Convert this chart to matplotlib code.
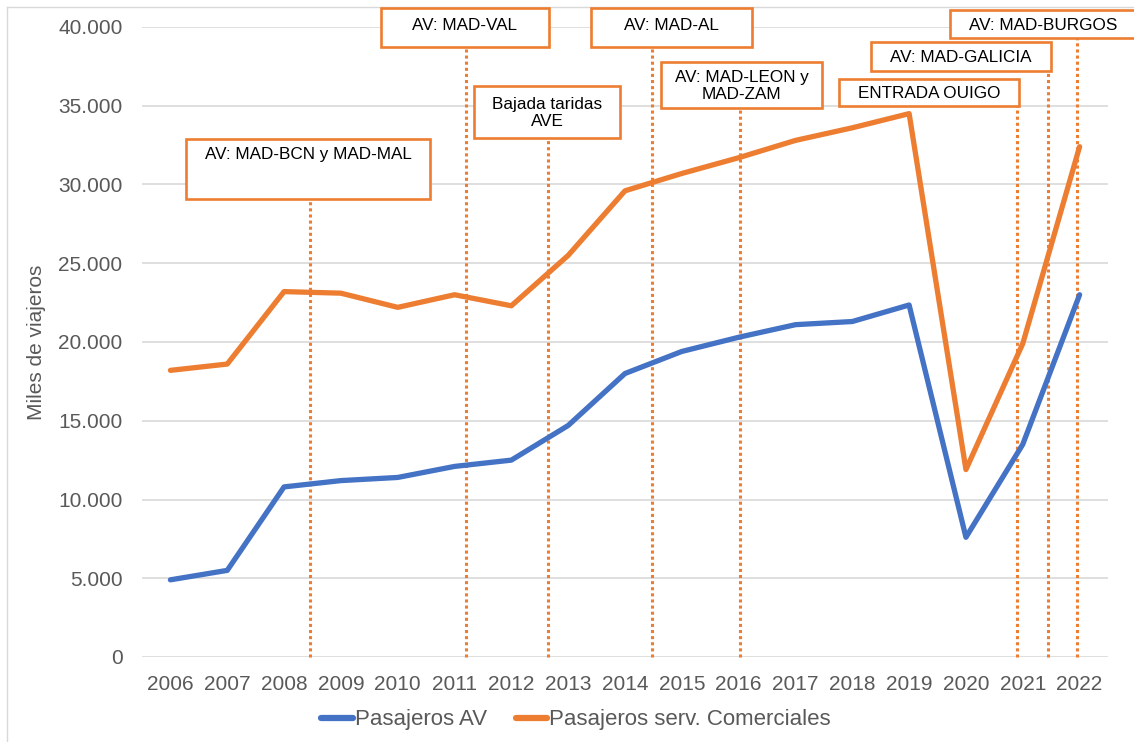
#!/usr/bin/env python3
import numpy as np
import matplotlib
matplotlib.use("Agg")
import matplotlib.pyplot as plt
from matplotlib.patches import Rectangle
from matplotlib.lines import Line2D
from matplotlib.ticker import FuncFormatter

plt.rcParams['font.family'] = ['Liberation Sans', 'DejaVu Sans']

years = list(range(2006, 2023))
pasajeros_av = [4900, 5500, 10800, 11200, 11400, 12100, 12500, 14700, 18000,
                19400, 20300, 21100, 21300, 22350, 7600, 13500, 23000]
pasajeros_com = [18200, 18600, 23200, 23100, 22200, 23000, 22300, 25500, 29600,
                 30700, 31700, 32800, 33600, 34500, 11900, 19900, 32400]

# hitos: texto, posicion x (año) de la linea punteada
hitos = ["AV: MAD-BCN y MAD-MAL", "AV: MAD-VAL", "Bajada taridas\nAVE", "AV: MAD-AL",
         "AV: MAD-LEON y\nMAD-ZAM", "ENTRADA OUIGO", "AV: MAD-GALICIA", "AV: MAD-BURGOS"]
hito_x = [2008.46, 2011.20, 2012.65, 2014.47, 2016.02, 2020.89, 2021.45, 2021.95]

# cajas en pixeles (x0, y0, x1, y1) de la figura, y posicion vertical del texto
W, H = 1134, 742
cajas = [(186, 139, 430, 199), (381, 8, 549, 47), (474, 86, 620, 138), (591, 8, 752, 47),
         (661, 62, 822, 108), (839, 79, 1019, 106), (871, 42, 1051, 71), (950, 10, 1136, 38)]
texto_y = [155, 26, 113, 26, 86, 93, 57, 25]

BLUE = "#4472C4"
ORANGE = "#ED7D31"
GREY = "#595959"
FS = 15

fig = plt.figure(figsize=(W / 100, H / 100), dpi=100)
ax = fig.add_axes([142 / W, 1 - 657 / H, (1108 - 142) / W, (657 - 27) / H])

def px_to_val(y):
    return (657 - y) / 630 * 40000

ax.plot(years, pasajeros_av, color=BLUE, lw=3.8, solid_capstyle='round',
        solid_joinstyle='round', label="Pasajeros AV", zorder=3)
ax.plot(years, pasajeros_com, color=ORANGE, lw=3.8, solid_capstyle='round',
        solid_joinstyle='round', label="Pasajeros serv. Comerciales", zorder=3)

ax.set_xlim(2005.5, 2022.5)
ax.set_ylim(0, 40000)
ax.set_xticks(years)
ax.set_yticks(np.arange(0, 40001, 5000))
ax.yaxis.set_major_formatter(FuncFormatter(lambda v, p: f"{int(v):,}".replace(",", ".")))
ax.tick_params(axis='both', length=0, labelsize=FS, colors=GREY)
ax.tick_params(axis='x', pad=13)
ax.tick_params(axis='y', pad=14)
ax.grid(axis='y', color="#D9D9D9", lw=1.2)
ax.set_axisbelow(True)
for s in ax.spines.values():
    s.set_visible(False)
ax.set_ylabel("Miles de viajeros", fontsize=FS, color=GREY, labelpad=9)

for txt, xv, (x0, y0, x1, y1), ty in zip(hitos, hito_x, cajas, texto_y):
    ax.plot([xv, xv], [0, px_to_val(y1)], color=ORANGE, lw=2.2, ls=(0, (1, 1)),
            clip_on=False, zorder=2)
    fig.patches.append(Rectangle((x0 / W, 1 - y1 / H), (x1 - x0) / W, (y1 - y0) / H,
                                 transform=fig.transFigure, facecolor='white',
                                 edgecolor=ORANGE, lw=1.9, zorder=5))
    fig.text((x0 + x1) / 2 / W, 1 - ty / H, txt, ha='center', va='center',
             fontsize=12.3, color='black', zorder=6, linespacing=1.15)

handles = [Line2D([0], [0], color=BLUE, lw=4.5, solid_capstyle='round'),
           Line2D([0], [0], color=ORANGE, lw=4.5, solid_capstyle='round')]
fig.legend(handles, ["Pasajeros AV", "Pasajeros serv. Comerciales"], loc='center',
           bbox_to_anchor=(0.508, 1 - 720 / H), ncol=2, frameon=False, fontsize=16,
           labelcolor=GREY, handlelength=1.4, handletextpad=0.1, columnspacing=1.3)

# borde del area del grafico
fig.add_artist(Line2D([7 / W, 7 / W], [0, 1 - 7 / H], color="#D9D9D9", lw=1,
                      transform=fig.transFigure))
fig.add_artist(Line2D([7 / W, 1], [1 - 7 / H, 1 - 7 / H], color="#D9D9D9", lw=1,
                      transform=fig.transFigure))

fig.savefig("out.png", dpi=100)
